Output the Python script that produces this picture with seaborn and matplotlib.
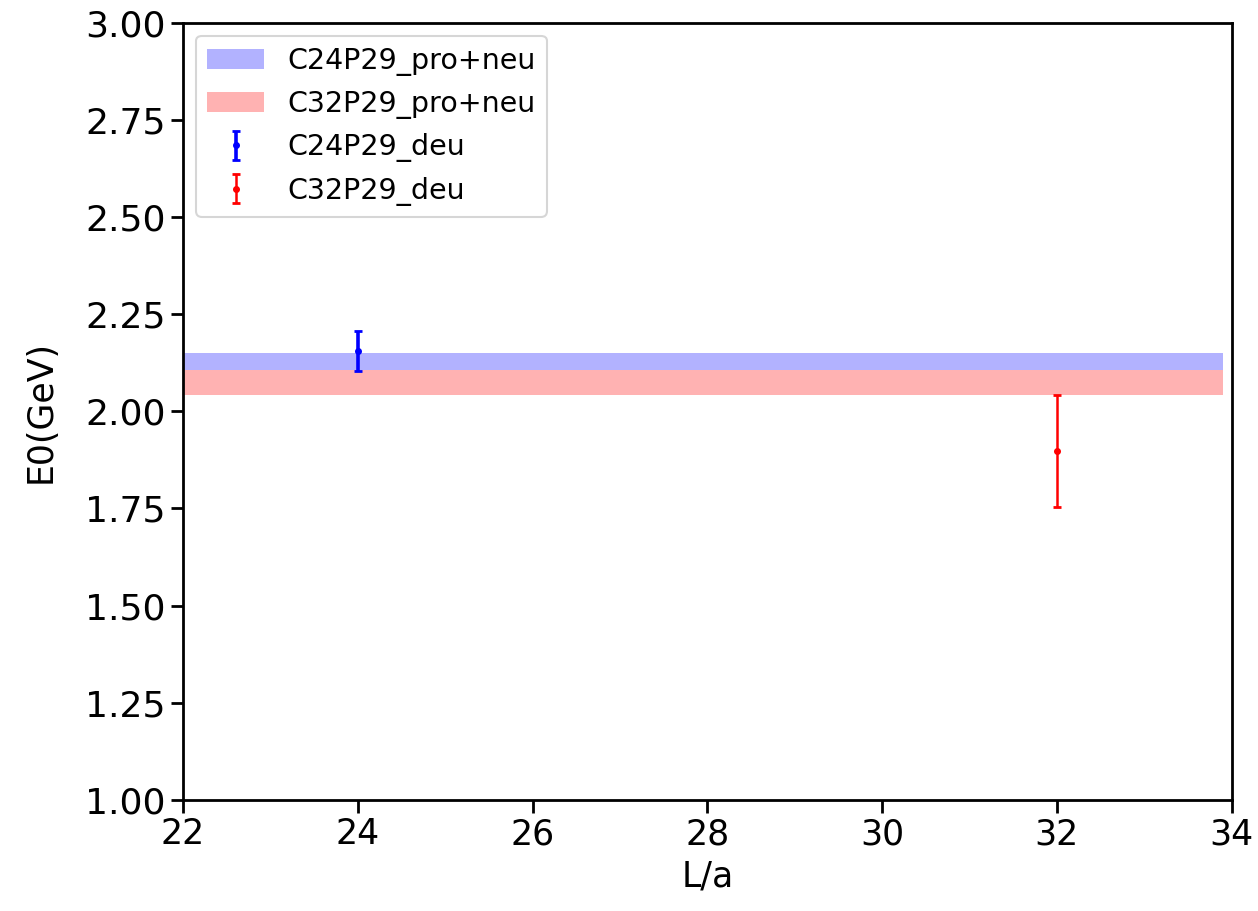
import numpy as np
import matplotlib
matplotlib.use("Agg")
import matplotlib.pyplot as plt
import seaborn as sns

# Data
band_labels = ["C24P29_pro+neu", "C32P29_pro+neu"]
band_centers = [2.128, 2.075]
band_errors = [0.021, 0.032]
band_colors = ["blue", "red"]
band_x = [21.0, 33.9]

point_labels = ["C24P29_deu", "C32P29_deu"]
point_x = [24, 32]
point_y = [2.156, 1.899]
point_err = [0.051, 0.144]
point_colors = ["blue", "red"]
point_lw = [2.6, 1.8]

xticks = [22, 24, 26, 28, 30, 32, 34]
yticks = [1.00, 1.25, 1.50, 1.75, 2.00, 2.25, 2.50, 2.75, 3.00]

sns.set_theme(style="ticks")
plt.rcParams['font.family'] = ['DejaVu Sans']
plt.rcParams['text.color'] = 'black'

fig, ax = plt.subplots(figsize=(12.58, 9.11), dpi=100)
fig.subplots_adjust(left=0.1455, right=0.979, top=0.975, bottom=0.122)

for lab, c, e, col in zip(band_labels, band_centers, band_errors, band_colors):
    xs = np.array(band_x)
    ax.fill_between(xs, c - e, c + e, color=col, alpha=0.3, lw=0, label=lab)

for lab, x, y, e, col, lw in zip(point_labels, point_x, point_y, point_err, point_colors, point_lw):
    ax.errorbar([x], [y], yerr=[e], fmt='o', ms=4, color=col, ecolor=col,
                elinewidth=lw, capsize=3, capthick=2, label=lab)

ax.set_xlim(22, 34)
ax.set_ylim(1.0, 3.0)
ax.set_xticks(xticks)
ax.set_yticks(yticks)
ax.set_yticklabels([f"{v:.2f}" for v in yticks])
ax.tick_params(axis='both', labelsize=25, length=9, width=2, color='black', labelcolor='black')
ax.tick_params(axis='y', labelsize=26)
for s in ax.spines.values():
    s.set_linewidth(2)
    s.set_color('black')
ax.set_xlabel("L/a", fontsize=25, color='black', labelpad=6)
ax.set_ylabel("E0(GeV)", fontsize=25, color='black', labelpad=20)

leg = ax.legend(loc='upper left', fontsize=20.5, frameon=True, borderaxespad=0.45)
leg.get_frame().set_edgecolor('#cccccc')
leg.get_frame().set_linewidth(1.5)
for t in leg.get_texts():
    t.set_color('black')

fig.savefig("out.png", dpi=100)
